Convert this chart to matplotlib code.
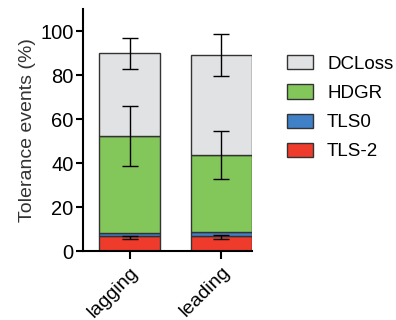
import matplotlib.pyplot as plt
from matplotlib.patches import Patch

plt.rcParams['font.family'] = ['Liberation Sans', 'DejaVu Sans']

groups = ['lagging', 'leading']
layers = ['TLS-2', 'TLS0', 'HDGR', 'DCLoss']
colors = ['#EE3B2B', '#3F80C7', '#83C65A', '#E1E2E4']

# segment heights (stacked)
tls_2 = [6.7, 7.0]
tls0 = [1.3, 1.5]
hdgr = [44.2, 35.1]
dcloss = [37.7, 45.5]

# error bars (value at segment top, +/- error)
tls_err = [0.6, 0.8]
hdgr_err = [13.6, 10.9]
dcloss_err = [7.1, 9.5]

fig = plt.figure(figsize=(3.96, 3.2), dpi=100)
ax = fig.add_axes([0.21, 0.2156, 0.426, 0.756])

x = list(range(len(groups)))
w = 0.667
bottom = [0, 0]
tops = []
for vals, c in zip([tls_2, tls0, hdgr, dcloss], colors):
    ax.bar(x, vals, w, bottom=bottom, color=c, edgecolor='#333333', linewidth=1, zorder=2)
    bottom = [b + v for b, v in zip(bottom, vals)]
    tops.append(list(bottom))

ekw = dict(fmt='none', ecolor='black', elinewidth=1, capsize=6, capthick=1, zorder=3)
ax.errorbar(x, [t - 0.6 for t in tops[0]], yerr=tls_err, **ekw)
ax.errorbar(x, tops[2], yerr=hdgr_err, **ekw)
ax.errorbar(x, tops[3], yerr=dcloss_err, **ekw)

ax.set_xlim(-0.51, 1.333)
ax.set_ylim(0, 110)
ax.set_yticks([0, 20, 40, 60, 80, 100])
ax.set_xticks(x)
ax.set_xticklabels(groups, rotation=45, ha='right', rotation_mode='anchor', fontsize=14)
ax.tick_params(axis='y', labelsize=14.5, width=1.5, length=5, pad=2)
ax.tick_params(axis='x', width=1.5, length=6, pad=3)
ax.set_ylabel('Tolerance events (%)', fontsize=14, color='#333333', labelpad=3)
for s in ['top', 'right']:
    ax.spines[s].set_visible(False)
for s in ['left', 'bottom']:
    ax.spines[s].set_linewidth(1.5)

handles = [Patch(facecolor=c, edgecolor='#333333', linewidth=1, label=l)
           for l, c in zip(layers[::-1], colors[::-1])]
fig.legend(handles=handles, loc='upper left', bbox_to_anchor=(0.71, 0.845),
           frameon=False, fontsize=13.5, handlelength=1.4, handleheight=0.78,
           labelspacing=0.62, handletextpad=0.75, borderpad=0.3, borderaxespad=0)

fig.savefig('out.png', dpi=100)
